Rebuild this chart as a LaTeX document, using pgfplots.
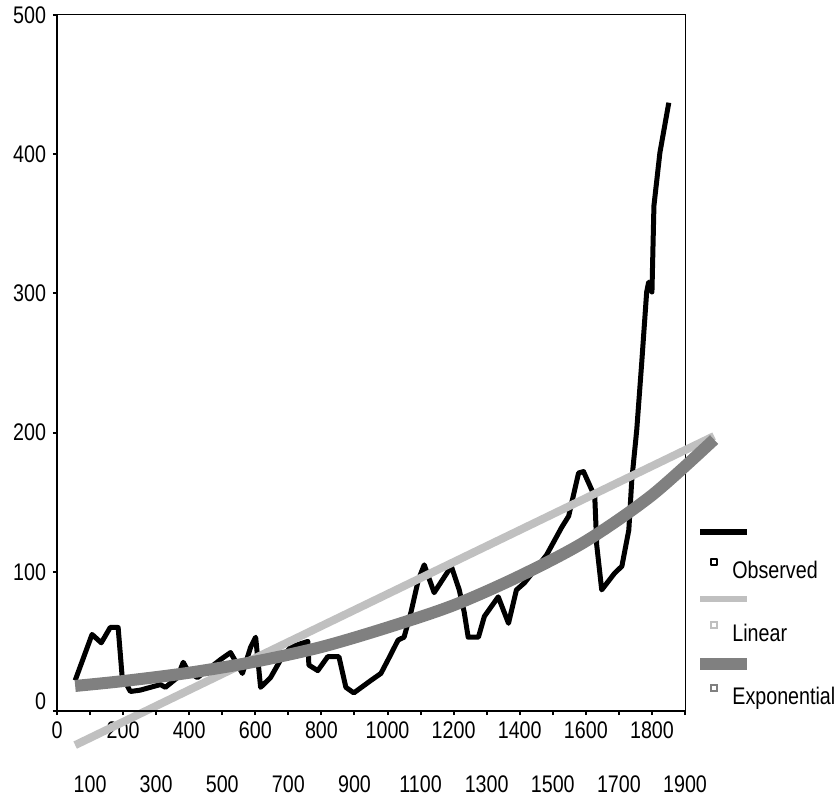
\documentclass[border=0pt]{standalone}
\usepackage{fontspec}
\setmainfont{Liberation Sans}[FakeStretch=0.82]
\usepackage{pgfplots}
\pgfplotsset{compat=1.18}
\definecolor{lin}{HTML}{C0C0C0}
\definecolor{expo}{HTML}{808080}
\begin{document}
\begin{tikzpicture}
\begin{axis}[name=ax,
 scale only axis, width=314bp, height=348bp,
 xmin=0, xmax=1900, ymin=0, ymax=500,
 clip=false,
 axis line style={line width=0.5bp},
 tick align=outside, major tick length=2bp,
 tick style={line width=1bp, black},
 xtick pos=left, ytick pos=left,
 xtick={0,200,400,600,800,1000,1200,1400,1600,1800},
 xticklabels={0,200,400,600,800,1000,1200,1400,1600,1800},
 extra x ticks={100,300,500,700,900,1100,1300,1500,1700,1900},
 extra x tick labels={100,300,500,700,900,1100,1300,1500,1700,1900},
 extra x tick style={tick label style={yshift=-27bp}},
 ytick={0,100,200,300,400,500},
 yticklabels={\raisebox{10bp}{0},100,200,300,400,500},
 tick label style={font=\fontsize{12bp}{14bp}\selectfont},
 legend cell align=left,
 legend style={at={(axis description cs:1,0)}, anchor=south west,
   xshift=7.5bp, yshift=-1.5bp, draw=none, fill=none, inner sep=0pt,
   row sep=16bp, column sep=0pt,
   nodes={font=\fontsize{12bp}{14bp}\selectfont, text height=9bp, text depth=2.5bp, inner sep=2bp}},
]
\addplot[black, line width=2.5bp, line join=round,
 legend image code/.code={
   \draw[overlay, black, line width=3bp] (0bp,20bp) -- (23.5bp,20bp);
   \draw[black, line width=0.8bp, fill=white] (5.25bp,3.5bp) rectangle (8.25bp,6.5bp);
   \path[draw=none, fill=none] (0bp,0bp) rectangle (14bp,0.1bp);}]
 coordinates {
 (55,22) (106,55) (134,49) (161,60) (185,60) (197,25) (222,14) (252,15)
 (313,19) (328,17) (364,24) (382,35) (398,28) (425,24) (495,37) (525,42)
 (561,27) (586,46) (601,53) (616,17) (646,24) (677,37) (707,46) (759,50)
 (762,33) (789,29) (819,39) (853,39) (874,17) (898,13) (950,22) (980,27)
 (1002,37) (1032,51) (1050,53) (1071,71) (1093,94) (1111,105) (1141,85)
 (1193,104) (1217,87) (1232,71) (1244,53) (1275,53) (1293,68) (1335,82)
 (1366,63) (1390,87) (1414,92) (1481,112) (1527,132) (1548,140) (1578,171)
 (1593,172) (1627,154) (1633,119) (1648,87) (1687,99) (1709,104) (1730,130)
 (1739,166) (1754,202) (1769,250) (1784,301) (1790,308) (1800,301)
 (1806,363) (1824,401) (1851,437)
 };
\addlegendentry{Observed}
\addplot[lin, line width=4bp,
 legend image code/.code={
   \draw[overlay, lin, line width=2.75bp] (0bp,18bp) -- (23.5bp,18bp);
   \draw[lin, line width=0.8bp, fill=white] (5.25bp,3.5bp) rectangle (8.25bp,6.5bp);
   \path[draw=none, fill=none] (0bp,0bp) rectangle (14bp,0.1bp);}]
 coordinates {(55,-24.5) (1988,197.5)};
\addlegendentry{Linear}
\addplot[expo, line width=6bp, smooth,
 legend image code/.code={
   \draw[overlay, expo, line width=6bp] (0bp,17bp) -- (23.5bp,17bp);
   \draw[expo, line width=0.8bp, fill=white] (5.25bp,3.5bp) rectangle (8.25bp,6.5bp);
   \path[draw=none, fill=none] (0bp,0bp) rectangle (14bp,0.1bp);}]
 coordinates {(55,18) (200,21.5) (400,27.5) (600,35.5) (800,46) (1000,60)
 (1200,76) (1400,97) (1600,122) (1800,155) (1988,195)};
\addlegendentry{Exponential}
\draw[line width=1.25bp] (rel axis cs:0,1) -- (rel axis cs:0,0) -- (rel axis cs:1,0);
\end{axis}
\pgfresetboundingbox
\path ([xshift=-28.5bp,yshift=-43.5bp]ax.south west) rectangle ([xshift=76bp,yshift=7.5bp]ax.north east);
\end{tikzpicture}
\end{document}
